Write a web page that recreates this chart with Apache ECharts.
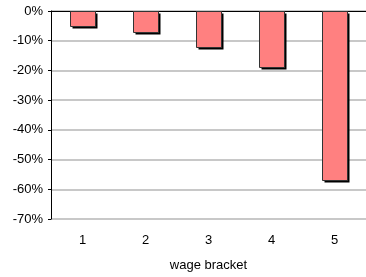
<!DOCTYPE html>
<html>
<head>
<meta charset="utf-8">
<script src="https://cdn.jsdelivr.net/npm/echarts@6/dist/echarts.min.js"></script>
<style>
  html, body { margin: 0; padding: 0; background: #fff; }
  #chart { width: 366px; height: 277px; }
</style>
</head>
<body>
<div id="chart"></div>
<script>
// wage brackets and percentage change
const brackets = ['1', '2', '3', '4', '5'];
const changes = [-5, -7, -12.2, -19, -57];
const yMin = -70;
const yMax = 0;
const yStep = 10;

const chart = echarts.init(document.getElementById('chart'));

const font = 'Liberation Sans, Arial, sans-serif';
const barW = 25;

// bar with a dark drop shadow, like the spreadsheet chart
function renderBar(params, api) {
  const idx = api.value(0);
  const val = api.value(1);
  const top = api.coord([idx, 0]);
  const bot = api.coord([idx, val]);
  const x0 = Math.round(top[0] - barW / 2);
  const y0 = Math.round(top[1]);
  const h = Math.round(bot[1]) - y0;
  return {
    type: 'group',
    children: [
      {
        type: 'rect',
        shape: { x: x0 + 2.5, y: y0 + 2.5, width: barW, height: h },
        style: { fill: '#000' }
      },
      {
        type: 'rect',
        shape: { x: x0 + 0.5, y: y0 + 0.5, width: barW, height: h },
        style: { fill: '#ff8080', stroke: '#333', lineWidth: 1 }
      }
    ]
  };
}

chart.setOption({
  animation: false,
  grid: { left: 51, top: 11, right: 0, bottom: 55 },
  xAxis: [
    {
      type: 'category',
      data: brackets,
      position: 'bottom',
      axisLine: { lineStyle: { color: '#808080', width: 1 } },
      axisTick: { show: false },
      axisLabel: { color: '#000', fontSize: 13, fontFamily: font, margin: 15 },
      name: 'wage bracket',
      nameLocation: 'middle',
      nameGap: 40,
      nameTextStyle: { color: '#000', fontSize: 13, fontFamily: font }
    },
    {
      type: 'category',
      data: brackets,
      position: 'top',
      axisLine: { lineStyle: { color: '#000', width: 1 } },
      axisTick: { inside: true, length: 3, lineStyle: { color: '#000' } },
      axisLabel: { show: false }
    }
  ],
  yAxis: {
    type: 'value',
    min: yMin,
    max: yMax,
    interval: yStep,
    axisLine: { show: true, lineStyle: { color: '#000', width: 1 } },
    axisTick: { show: true, length: 3, lineStyle: { color: '#000' } },
    axisLabel: {
      color: '#000',
      fontSize: 13,
      fontFamily: font,
      margin: 8,
      formatter: v => v + '%'
    },
    splitLine: { lineStyle: { color: '#c8c8c8', width: 2 } }
  },
  series: [
    {
      type: 'custom',
      xAxisIndex: 0,
      renderItem: renderBar,
      encode: { x: 0, y: 1 },
      data: changes.map((v, i) => [i, v])
    }
  ]
});
</script>
</body>
</html>
